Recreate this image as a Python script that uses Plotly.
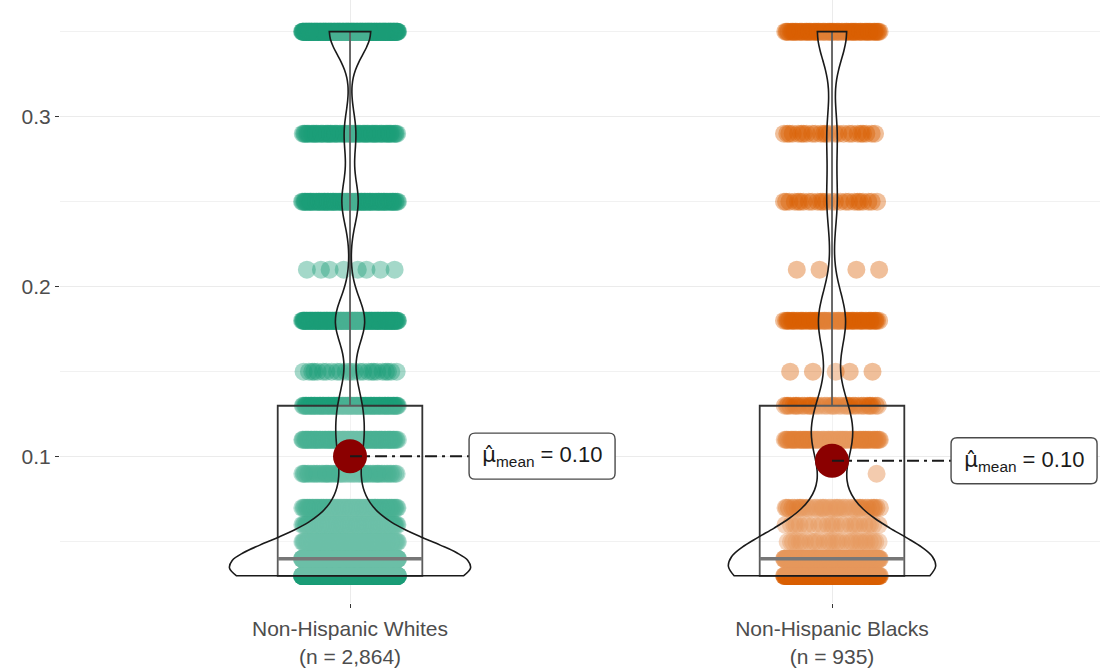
import numpy as np
import plotly.graph_objects as go

# ---------------- data ----------------
groups = ["Non-Hispanic Whites", "Non-Hispanic Blacks"]
levels = [0.03, 0.04, 0.05, 0.06, 0.07, 0.09, 0.11, 0.13, 0.15, 0.18, 0.21, 0.25, 0.29, 0.35]
whites_counts = [915, 650, 150, 100, 90, 60, 120, 110, 25, 187, 8, 105, 75, 269]
blacks_counts = [268, 250, 30, 25, 40, 1, 80, 40, 5, 67, 4, 25, 25, 75]
y_ticks = [0.1, 0.2, 0.3]
y_tick_labels = ["0.1", "0.2", "0.3"]
y_minor_grid = [0.05, 0.15, 0.25, 0.35]

# ---------------- style ----------------
colors = ["#1B9E77", "#D95F02"]
positions = [1, 2]
jitter_half = 0.1
box_width = 0.3
violin_widths = [0.5, 0.43]
label_offset = 0.247
x_range = [0.3983, 2.556]
y_range = [0.0140, 0.3686]
font_family = "Liberation Sans, Arial, sans-serif"

counts_by_group = [whites_counts, blacks_counts]
values_by_group = [np.repeat(levels, c) for c in counts_by_group]


def jitter_offsets(count, seed, half):
    k = np.arange(count) + seed * 13 + 1
    frac = (k * 0.6180339887498949) % 1.0
    return (2 * frac - 1) * half


def nrd0(v):
    sd = np.std(v, ddof=1)
    q75, q25 = np.percentile(v, [75, 25])
    return 0.9 * min(sd, (q75 - q25) / 1.34) * len(v) ** -0.2


fig = go.Figure()

# points (base subplot)
for gi, (counts, col, xc) in enumerate(zip(counts_by_group, colors, positions)):
    xs, ys = [], []
    for li, (lv, c) in enumerate(zip(levels, counts)):
        xs.append(xc + jitter_offsets(c, li + gi * 5, jitter_half))
        ys.append(np.full(c, lv))
    fig.add_trace(go.Scatter(
        x=np.concatenate(xs), y=np.concatenate(ys), mode="markers",
        marker=dict(size=18, color=col, opacity=0.4, line=dict(width=0)),
        hoverinfo="skip", xaxis="x", yaxis="y"))

# boxes (overlay subplot 2)
for vals, xc in zip(values_by_group, positions):
    fig.add_trace(go.Box(
        x=np.full(len(vals), xc), y=vals, width=box_width, boxpoints=False,
        whiskerwidth=0, fillcolor="rgba(255,255,255,0.2)",
        line=dict(color="#333333", width=1.8), hoverinfo="skip",
        xaxis="x2", yaxis="y2"))
    med = float(np.median(vals))
    fig.add_trace(go.Scatter(
        x=[xc - box_width / 2, xc + box_width / 2], y=[med, med], mode="lines",
        line=dict(color="#555555", width=3.6), hoverinfo="skip",
        xaxis="x2", yaxis="y2"))

# violins (overlay subplot 3)
for gi, (vals, xc) in enumerate(zip(values_by_group, positions)):
    fig.add_trace(go.Violin(
        x=np.full(len(vals), xc), y=vals, width=violin_widths[gi],
        scalemode="width", scalegroup="g%d" % gi, spanmode="hard",
        bandwidth=nrd0(vals), points=False, box_visible=False,
        meanline_visible=False, fillcolor="rgba(255,255,255,0.2)",
        line=dict(color="#1a1a1a", width=1.6), hoverinfo="skip",
        xaxis="x3", yaxis="y3"))

# mean points + connectors + labels (overlay subplot 4)
shapes, annotations = [], []
for vals, xc in zip(values_by_group, positions):
    m = float(np.mean(vals))
    fig.add_trace(go.Scatter(
        x=[xc], y=[m], mode="markers",
        marker=dict(size=34, color="#8B0000", line=dict(width=0)),
        hoverinfo="skip", xaxis="x4", yaxis="y4"))
    fig.add_trace(go.Scatter(
        x=[xc, xc + label_offset], y=[m, m], mode="lines",
        line=dict(color="#1a1a1a", width=2, dash="12px,5px,3px,5px"),
        hoverinfo="skip", xaxis="x4", yaxis="y4"))
    w, h, r = 146, 23, 6
    path = (f"M {r},{-h} L {w - r},{-h} Q {w},{-h} {w},{-h + r} L {w},{h - r} "
            f"Q {w},{h} {w - r},{h} L {r},{h} Q 0,{h} 0,{h - r} L 0,{-h + r} Q 0,{-h} {r},{-h} Z")
    shapes.append(dict(type="path", xref="x4", yref="y4", xsizemode="pixel",
                       ysizemode="pixel", xanchor=xc + label_offset, yanchor=m,
                       path=path, fillcolor="white",
                       line=dict(color="#4a4a4a", width=1.4), layer="above"))
    annotations.append(dict(x=xc + label_offset, y=m, xref="x4", yref="y4",
                            xanchor="center", yanchor="middle", xshift=w / 2,
                            showarrow=False,
                            text=(f"<span style='font-family:DejaVu Sans'>\u03bc\u0302</span>"
                                  f"<sub>mean</sub> = {m:.2f}"),
                            font=dict(size=22, color="#1a1a1a", family=font_family)))

tick_text = [f"{g}<br>(n = {sum(c):,})" for g, c in zip(groups, counts_by_group)]

overlay = dict(visible=False, showgrid=False, zeroline=False)
fig.update_layout(
    width=1100, height=668, margin=dict(l=60, r=0, t=0, b=58),
    paper_bgcolor="white", plot_bgcolor="white", showlegend=False,
    boxmode="overlay", violinmode="overlay",
    font=dict(family=font_family),
    xaxis=dict(range=x_range, tickvals=positions, ticktext=tick_text,
               showgrid=True, gridcolor="#ebebeb", gridwidth=1.3, zeroline=False,
               ticks="outside", ticklen=4, tickwidth=1.3, tickcolor="#333333",
               ticklabelstandoff=3,
               tickfont=dict(size=21, color="#4d4d4d"), showline=False),
    yaxis=dict(range=y_range, tickvals=y_ticks, ticktext=y_tick_labels,
               showgrid=True, gridcolor="#ebebeb", gridwidth=1.3, zeroline=False,
               minor=dict(tickvals=y_minor_grid, showgrid=True, gridcolor="#f1f1f1",
                          gridwidth=1, ticks=""),
               ticks="outside", ticklen=4, tickwidth=1.3, tickcolor="#333333",
               tickfont=dict(size=21, color="#4d4d4d"), showline=False),
    xaxis2=dict(overlaying="x", matches="x", anchor="y2", range=x_range, **overlay),
    yaxis2=dict(overlaying="y", matches="y", anchor="x2", range=y_range, **overlay),
    xaxis3=dict(overlaying="x", matches="x", anchor="y3", range=x_range, **overlay),
    yaxis3=dict(overlaying="y", matches="y", anchor="x3", range=y_range, **overlay),
    xaxis4=dict(overlaying="x", matches="x", anchor="y4", range=x_range, **overlay),
    yaxis4=dict(overlaying="y", matches="y", anchor="x4", range=y_range, **overlay),
    shapes=shapes, annotations=annotations,
)

fig.write_html("out.html", config={"displayModeBar": False},
               post_script="document.body.style.margin='0';"
                           "document.body.style.overflow='hidden';")
